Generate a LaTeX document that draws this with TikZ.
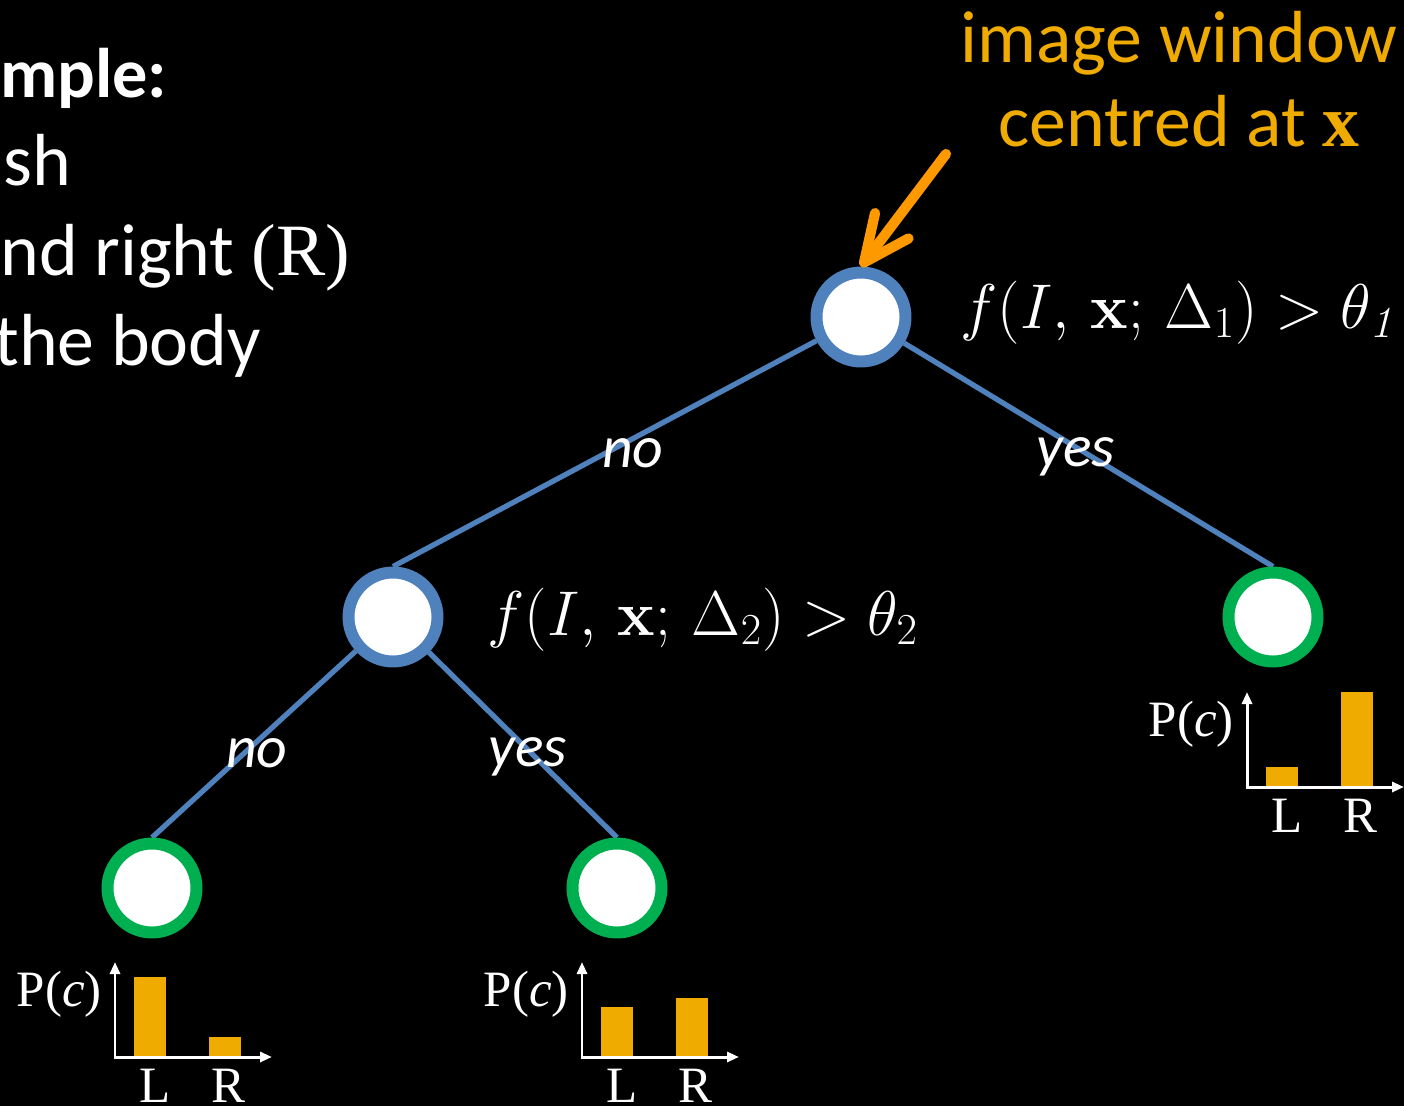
\RequirePackage{fix-cm}
\documentclass[tikz,border=0pt]{standalone}
\usepackage[no-math]{fontspec}
\usepackage{amsmath}
\setmainfont{Carlito}
\newfontfamily\tnr{Liberation Serif}
\usetikzlibrary{arrows.meta}

\definecolor{splitblue}{RGB}{79,129,189}
\definecolor{leafgreen}{RGB}{0,176,80}
\definecolor{barorange}{RGB}{240,171,0}
\definecolor{ptrorange}{RGB}{255,153,0}

\pgfdeclarelayer{bg}
\pgfsetlayers{bg,main}

\begin{document}
\begin{tikzpicture}[x=0.02cm, y=-0.02cm,
    split/.style={circle, draw=splitblue, fill=white, line width=6.8pt,
        inner sep=0pt, minimum size=1.78cm},
    leaf/.style={split, draw=leafgreen},
    branch/.style={draw=splitblue, line width=3pt},
    lbl/.style={text=white, font=\fontsize{34}{40}\selectfont\itshape, inner sep=0pt},
    cond/.style={text=white, font=\fontsize{36}{42}\selectfont, inner sep=0pt, anchor=base west},
    side/.style={text=white, font=\fontsize{42}{50}\selectfont, inner sep=0pt, anchor=base west},
    axis/.style={draw=white, line width=1.7pt, {Triangle[length=0.24cm,width=0.2cm]}-{Triangle[length=0.24cm,width=0.2cm]}},
    plab/.style={text=white, font=\fontsize{29}{34}\selectfont\tnr, inner sep=0pt}]
    \useasboundingbox (0,0) rectangle (1404,1106);
    \clip (0,0) rectangle (1404,1106);

    % slide text, cut at the left edge
    \node[side, font=\fontsize{40}{50}\selectfont\bfseries] (head) at (0,97) {mple:};
    \node[side] (item1) at (3,185) {sh};
    \node[side] (item2) at (0,275) {nd right {\tnr(R)}};
    \node[side] (item3) at (-6,365) {the body};

    % the tree
    \node[split] (root) at (861,317) {};
    \node[split] (mid) at (393,617) {};
    \node[leaf] (right) at (1273,617) {};
    \node[leaf] (ll) at (152,888) {};
    \node[leaf] (lr) at (617,888) {};

    \node[cond] (test1) at (960,328) {$f(I,\,\mathbf{x};\,\Delta_1) > \theta_{\mathit{1}}$};
    \node[cond] (test2) at (487,635) {$f(I,\,\mathbf{x};\,\Delta_2) > \theta_2$};

    \begin{pgfonlayer}{bg}
        \fill[black] (0,0) rectangle (1404,1106);
        \draw[branch] (root) -- node[lbl, shift={(28,0)}] {no} (mid.north);
        \draw[branch] (root) -- node[lbl, shift={(-13,2)}] {yes} (right.north);
        \draw[branch] (mid) -- node[lbl, shift={(3,9)}] {no} (ll.north);
        \draw[branch] (mid) -- node[lbl, shift={(5,12)}] {yes} (lr.north);
    \end{pgfonlayer}

    % pointer to the root
    \node[text=barorange, font=\fontsize{42}{50}\selectfont, align=center, inner sep=0pt,
        anchor=north] (window) at (1179,11) {image window\\[-2pt] centred at {\tnr\bfseries x}};
    \coordinate (ptr) at (946,154);
    \draw[ptrorange, line width=5.8pt, line cap=round,
        -{Straight Barb[round, length=0.92cm, width=0.84cm]}] (ptr) -- (root.north);

    % class histograms under the leaves
    \foreach \ox/\oy/\hl/\hr in {115/1057/80/20, 582/1057/50/59, 1247/787/20/95} {
        \fill[barorange] (\ox+19,\oy) rectangle (\ox+51,\oy-\hl);
        \fill[barorange] (\ox+94,\oy) rectangle (\ox+126,\oy-\hr);
        \draw[axis] (\ox,\oy-95) |- (\ox+157,\oy);
        \node[plab, anchor=base east] at (\ox-13,\oy-51) {P(\textit{c})};
        \node[plab, anchor=base] at (\ox+40,\oy+45) {L};
        \node[plab, anchor=base] at (\ox+113,\oy+45) {R};
    }
\end{tikzpicture}
\end{document}
